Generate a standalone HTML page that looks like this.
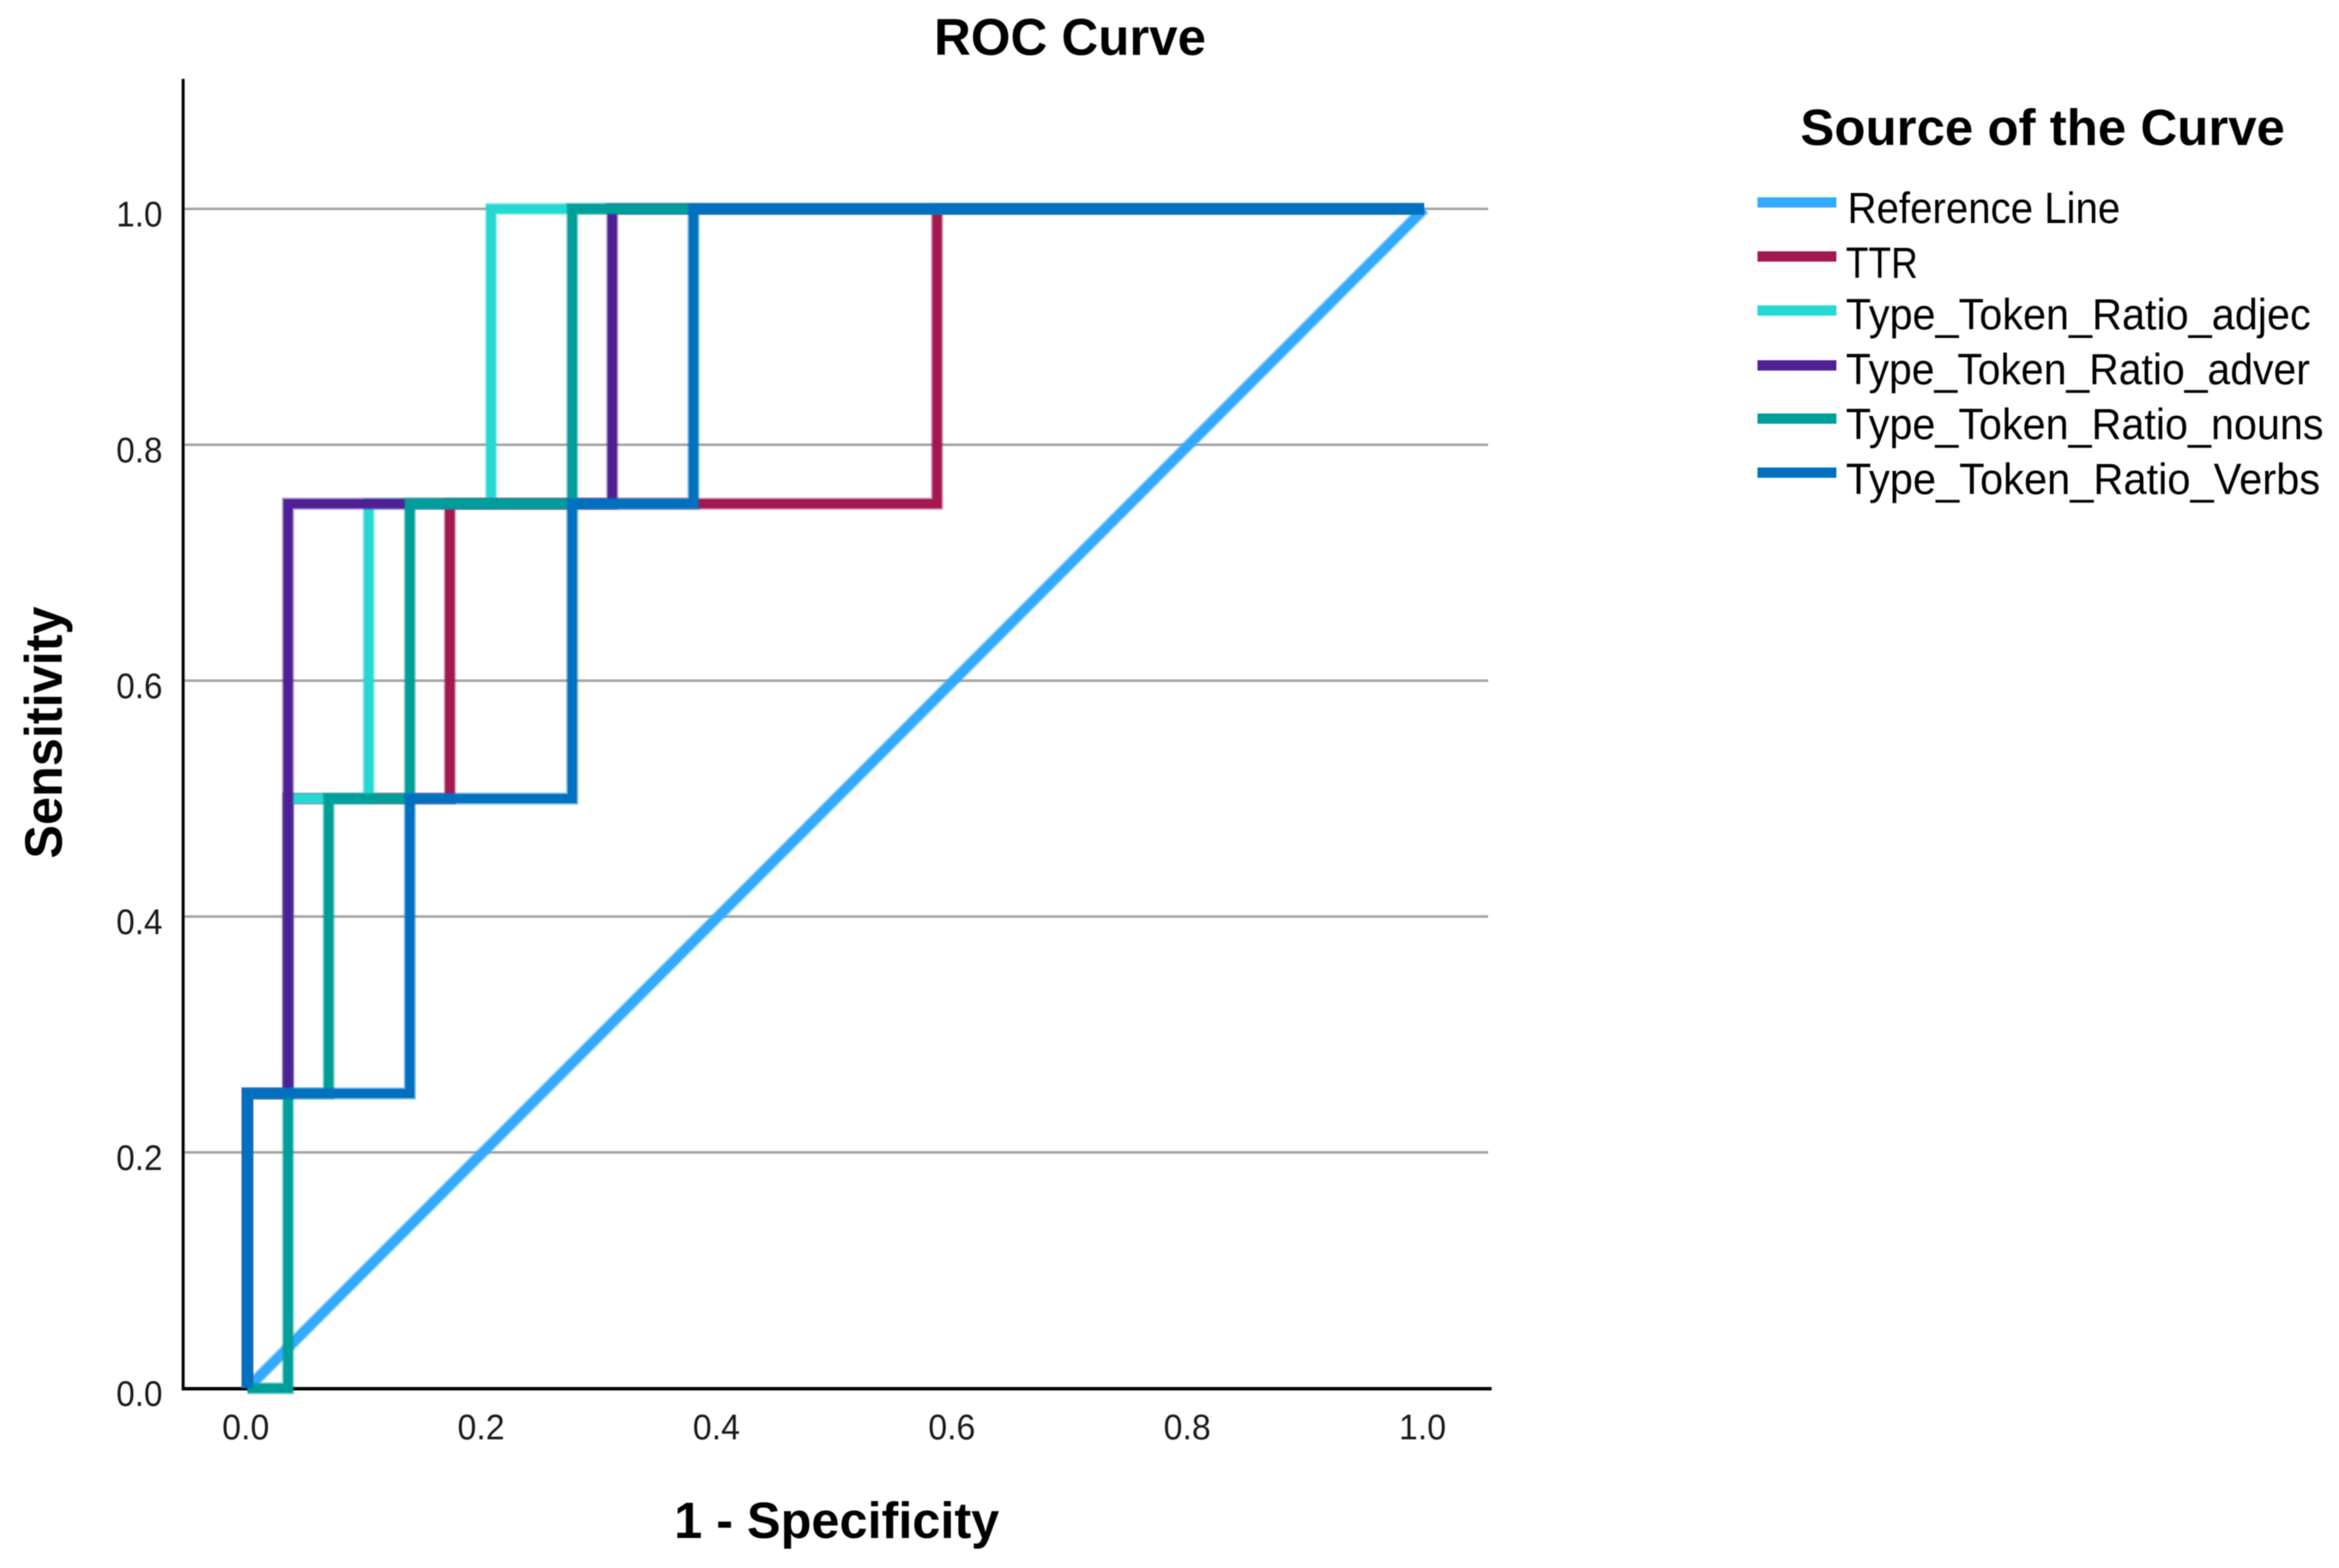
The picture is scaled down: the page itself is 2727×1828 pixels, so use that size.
<!DOCTYPE html>
<html lang="en">
<head>
<meta charset="utf-8">
<title>ROC Curve</title>
<style>
  html, body { margin: 0; padding: 0; background: #fff; }
  body { width: 2727px; height: 1828px; overflow: hidden; }
  #chart { display: block; }
  #chart text { font-family: "Liberation Sans", Arial, sans-serif; fill: #000; }
  #tick-layer text { fill: #1a1a1a; }
  .plot-soft { filter: blur(0.6px); }
  .text-soft { filter: blur(0.5px); }
  .title-text { font-weight: bold; }
</style>
</head>
<body>
<svg id="chart" width="2727" height="1828" viewBox="0 0 2727 1828" xmlns="http://www.w3.org/2000/svg">
  <rect width="2727" height="1828" fill="#ffffff"></rect>
  <g id="grid-layer" class="plot-soft"></g>
  <g id="axis-layer" class="plot-soft">
    <line x1="213.5" y1="92" x2="213.5" y2="1621" stroke="#000" stroke-width="3.5"></line>
    <line x1="212" y1="1619" x2="1739" y2="1619" stroke="#000" stroke-width="4"></line>
  </g>
  <g id="series-layer" class="plot-soft"></g>
  <g id="tick-layer" class="text-soft"></g>

  <g class="text-soft">
    <text class="title-text" x="1089" y="64" font-size="60" textLength="317" lengthAdjust="spacingAndGlyphs">ROC Curve</text>
    <text class="title-text" x="786" y="1793" font-size="59" textLength="379" lengthAdjust="spacingAndGlyphs">1 - Specificity</text>
    <text class="title-text" transform="translate(72,1001) rotate(-90)" x="0" y="0" font-size="61" textLength="294" lengthAdjust="spacingAndGlyphs">Sensitivity</text>
  </g>

  <g class="text-soft">
    <text class="title-text" x="2099" y="169" font-size="59" textLength="565" lengthAdjust="spacingAndGlyphs">Source of the Curve</text>

    <g>
      <line x1="2049" y1="236" x2="2141" y2="236" stroke="#33aaff" stroke-width="12"></line>
      <text x="2154" y="260" font-size="51" textLength="318" lengthAdjust="spacingAndGlyphs">Reference Line</text>
    </g>
    <g>
      <line x1="2049" y1="299" x2="2141" y2="299" stroke="#a31850" stroke-width="12"></line>
      <text x="2152" y="324" font-size="51" textLength="84" lengthAdjust="spacingAndGlyphs">TTR</text>
    </g>
    <g>
      <line x1="2049" y1="362" x2="2141" y2="362" stroke="#25d8d4" stroke-width="12"></line>
      <text x="2152" y="384" font-size="51" textLength="542" lengthAdjust="spacingAndGlyphs">Type_Token_Ratio_adjec</text>
    </g>
    <g>
      <line x1="2049" y1="426" x2="2141" y2="426" stroke="#4f2095" stroke-width="12"></line>
      <text x="2152" y="448" font-size="51" textLength="541" lengthAdjust="spacingAndGlyphs">Type_Token_Ratio_adver</text>
    </g>
    <g>
      <line x1="2049" y1="488" x2="2141" y2="488" stroke="#009e99" stroke-width="12"></line>
      <text x="2152" y="512" font-size="51" textLength="557" lengthAdjust="spacingAndGlyphs">Type_Token_Ratio_nouns</text>
    </g>
    <g>
      <line x1="2049" y1="551" x2="2141" y2="551" stroke="#0070c0" stroke-width="12"></line>
      <text x="2152" y="576" font-size="51" textLength="553" lengthAdjust="spacingAndGlyphs">Type_Token_Ratio_Verbs</text>
    </g>
  </g>
</svg>

<script>
// Tick labels
const xTickValues = [0.0, 0.2, 0.4, 0.6, 0.8, 1.0];
const xTickLabels = ["0.0", "0.2", "0.4", "0.6", "0.8", "1.0"];
const yTickValues = [0.0, 0.2, 0.4, 0.6, 0.8, 1.0];
const yTickLabels = ["0.0", "0.2", "0.4", "0.6", "0.8", "1.0"];
const gridValues = [0.2, 0.4, 0.6, 0.8, 1.0];

// Series values: 1 - specificity (fpr) and sensitivity (tpr)
const referenceFpr = [0, 1];
const referenceTpr = [0, 1];
const ttrFpr = [0, 0, 0.0345, 0.0345, 0.172, 0.172, 0.586, 0.586, 1];
const ttrTpr = [0, 0.25, 0.25, 0.5, 0.5, 0.75, 0.75, 1, 1];
const adjecFpr = [0, 0, 0.0345, 0.0345, 0.103, 0.103, 0.207, 0.207, 1];
const adjecTpr = [0, 0.25, 0.25, 0.5, 0.5, 0.75, 0.75, 1, 1];
const adverFpr = [0, 0, 0.0345, 0.0345, 0.31, 0.31, 1];
const adverTpr = [0, 0.25, 0.25, 0.75, 0.75, 1, 1];
const nounsFpr = [0, 0.0345, 0.0345, 0.069, 0.069, 0.138, 0.138, 0.276, 0.276, 1];
const nounsTpr = [0, 0, 0.25, 0.25, 0.5, 0.5, 0.75, 0.75, 1, 1];
const verbsFpr = [0, 0, 0.138, 0.138, 0.276, 0.276, 0.379, 0.379, 1];
const verbsTpr = [0, 0.25, 0.25, 0.5, 0.5, 0.75, 0.75, 1, 1];

const SVG_NS = "http://www.w3.org/2000/svg";

// Axis functions
function xScale(v) { return 288.5 + v * 1372; }
function yScale(v) { return 1618.5 - v * 1375; }

const gridLayer = document.getElementById("grid-layer");
const tickLayer = document.getElementById("tick-layer");
const seriesLayer = document.getElementById("series-layer");

gridValues.forEach(function (v) {
  const line = document.createElementNS(SVG_NS, "line");
  line.setAttribute("x1", 215);
  line.setAttribute("x2", 1735);
  line.setAttribute("y1", yScale(v));
  line.setAttribute("y2", yScale(v));
  line.setAttribute("stroke", "#a6a6a6");
  line.setAttribute("stroke-width", 3);
  
  
  gridLayer.appendChild(line);
});

xTickValues.forEach(function (v, i) {
  const label = document.createElementNS(SVG_NS, "text");
  label.setAttribute("x", xScale(v) - 2);
  label.setAttribute("y", 1678);
  label.setAttribute("font-size", 42);
  label.setAttribute("text-anchor", "middle");
  label.setAttribute("textLength", 55);
  label.setAttribute("lengthAdjust", "spacingAndGlyphs");
  label.textContent = xTickLabels[i];
  
  
  tickLayer.appendChild(label);
});

yTickValues.forEach(function (v, i) {
  const label = document.createElementNS(SVG_NS, "text");
  label.setAttribute("x", 162.5);
  label.setAttribute("y", yScale(v) + 20.5);
  label.setAttribute("font-size", 42);
  label.setAttribute("text-anchor", "middle");
  label.setAttribute("textLength", 54);
  label.setAttribute("lengthAdjust", "spacingAndGlyphs");
  label.textContent = yTickLabels[i];
  
  
  tickLayer.appendChild(label);
});

function drawCurve(name, fpr, tpr, color) {
  const pts = fpr.map(function (f, i) {
    return xScale(f) + "," + yScale(tpr[i]);
  }).join(" ");

  const halo = document.createElementNS(SVG_NS, "polyline");
  halo.setAttribute("points", pts);
  halo.setAttribute("fill", "none");
  halo.setAttribute("stroke", color);
  halo.setAttribute("stroke-opacity", 0.5);
  halo.setAttribute("stroke-width", 14);
  halo.setAttribute("stroke-linejoin", "miter");
  halo.setAttribute("stroke-linecap", "butt");
  
  
  seriesLayer.appendChild(halo);

  const curve = document.createElementNS(SVG_NS, "polyline");
  curve.setAttribute("points", pts);
  curve.setAttribute("fill", "none");
  curve.setAttribute("stroke", color);
  curve.setAttribute("stroke-width", 10.5);
  curve.setAttribute("stroke-linejoin", "miter");
  curve.setAttribute("stroke-linecap", "butt");
  
  
  seriesLayer.appendChild(curve);
}

drawCurve("curve-reference-line", referenceFpr, referenceTpr, "#33aaff");
drawCurve("curve-ttr", ttrFpr, ttrTpr, "#a31850");
drawCurve("curve-type-token-ratio-adjec", adjecFpr, adjecTpr, "#25d8d4");
drawCurve("curve-type-token-ratio-adver", adverFpr, adverTpr, "#4f2095");
drawCurve("curve-type-token-ratio-nouns", nounsFpr, nounsTpr, "#009e99");
drawCurve("curve-type-token-ratio-verbs", verbsFpr, verbsTpr, "#0070c0");
</script>
</body>
</html>
